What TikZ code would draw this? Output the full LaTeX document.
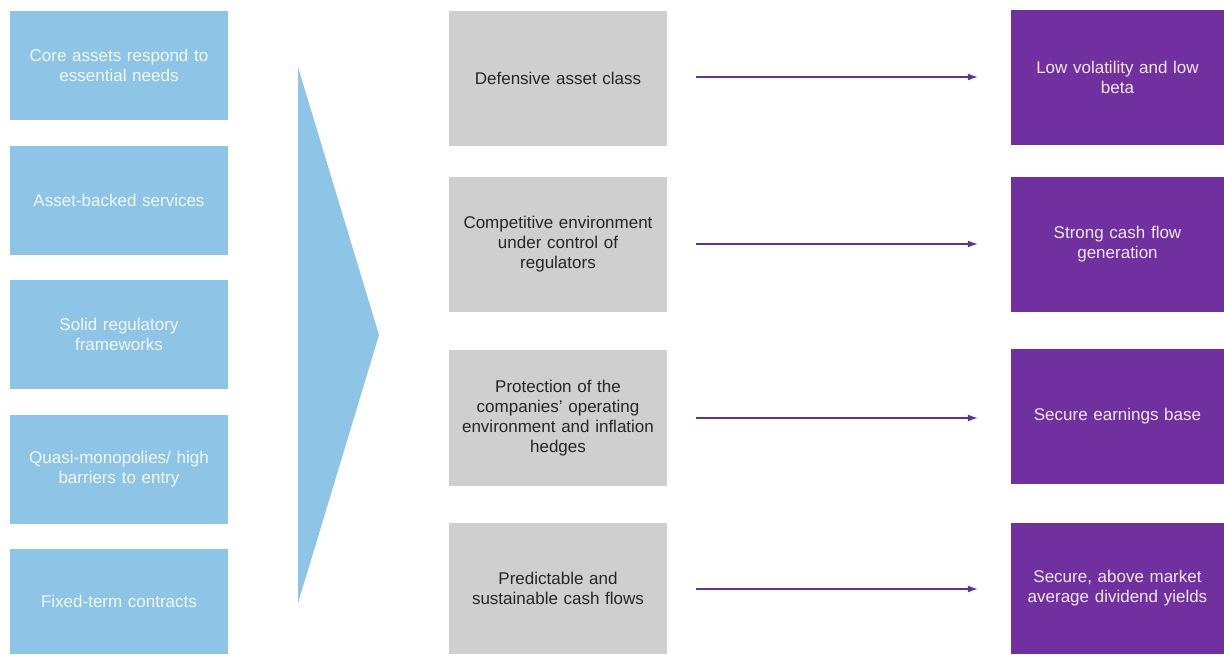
\documentclass[tikz,border=0pt]{standalone}
\usepackage{fontspec}
\setmainfont{Liberation Sans}
\usetikzlibrary{arrows.meta}
\definecolor{lblue}{RGB}{142,196,230}
\definecolor{lgray}{RGB}{208,207,207}
\definecolor{dpurple}{RGB}{112,48,160}
\definecolor{arrowcol}{RGB}{96,52,140}
\definecolor{bluetext}{RGB}{242,247,252}
\definecolor{purpletext}{RGB}{240,232,246}
\definecolor{graytext}{RGB}{38,38,38}
\tikzset{
  boxbase/.style={rectangle, inner sep=4pt, align=center, font=\fontsize{17}{20}\selectfont},
  bluebox/.style={boxbase, fill=lblue, text=bluetext, minimum width=218pt, minimum height=109pt, text width=200pt},
  graybox/.style={boxbase, fill=lgray, text=graytext, minimum width=218pt, minimum height=135pt, text width=200pt},
  purplebox/.style={boxbase, fill=dpurple, text=purpletext, minimum width=213pt, minimum height=135pt, text width=195pt},
  conn/.style={draw=arrowcol, line width=1.3pt, -{Latex[length=10pt,width=7pt]}, shorten <=29pt, shorten >=33pt}
}
\begin{document}
\begin{tikzpicture}[x=1pt,y=-1pt]
\useasboundingbox[fill=white] (0,0) rectangle (1224,654);
% left column
\node[bluebox] (b1) at (119,65.5) {Core assets respond to\\essential needs};
\node[bluebox] (b2) at (119,200) {Asset-backed services};
\node[bluebox] (b3) at (119,334.5) {Solid regulatory\\frameworks};
\node[bluebox] (b4) at (119,469.5) {Quasi-monopolies/ high\\barriers to entry};
\node[bluebox, minimum height=105pt] (b5) at (119,601.5) {Fixed-term contracts};
% big chevron
\fill[lblue] (298,67) -- (379,335) -- (298,603) -- cycle;
% middle column
\node[graybox] (g1) at (558,78.5) {Defensive asset class};
\node[graybox] (g2) at (558,244.5) {Competitive environment\\under control of\\regulators};
\node[graybox, minimum height=136pt] (g3) at (558,418) {Protection of the\\companies' operating\\environment and inflation\\hedges};
\node[graybox, minimum height=131pt] (g4) at (558,588.5) {Predictable and\\sustainable cash flows};
% right column
\node[purplebox] (p1) at (1117.5,77.5) {Low volatility and low\\beta};
\node[purplebox] (p2) at (1117.5,244.5) {Strong cash flow\\generation};
\node[purplebox] (p3) at (1117.5,416.5) {Secure earnings base};
\node[purplebox, minimum height=131pt] (p4) at (1117.5,588.5) {Secure, above market\\average dividend yields};
% connectors
\draw[conn] (g1.east |- 0,77) -- (p1.west |- 0,77);
\draw[conn] (g2.east |- 0,244) -- (p2.west |- 0,244);
\draw[conn] (g3.east |- 0,418) -- (p3.west |- 0,418);
\draw[conn] (g4.east |- 0,589) -- (p4.west |- 0,589);
\end{tikzpicture}
\end{document}
